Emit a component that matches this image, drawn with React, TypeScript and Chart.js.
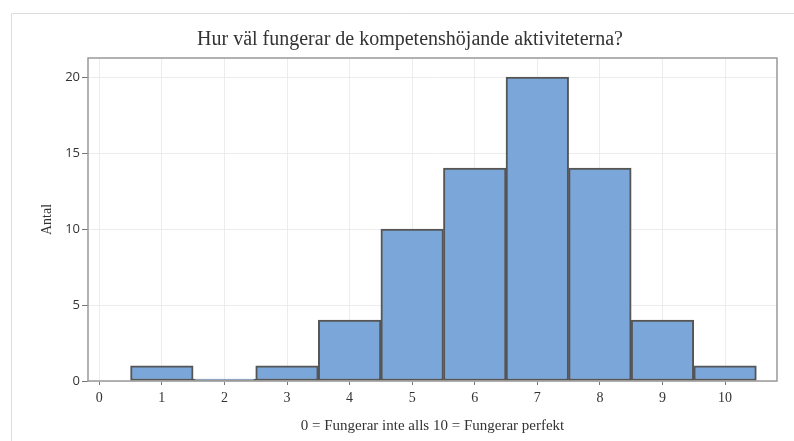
import React, { useEffect, useRef } from "react";
import { Chart, registerables } from "chart.js";

Chart.register(...registerables);

const titleText = "Hur väl fungerar de kompetenshöjande aktiviteterna?";
const xAxisLabel = "0 = Fungerar inte alls 10 = Fungerar perfekt";
const yAxisLabel = "Antal";
const scores = [1, 2, 3, 4, 5, 6, 7, 8, 9, 10];
const counts = [1, 0, 1, 4, 10, 14, 20, 14, 4, 1];
const xTicks = [0, 1, 2, 3, 4, 5, 6, 7, 8, 9, 10];
const yTicks = [0, 5, 10, 15, 20];

const framePlugin = {
  id: "framePlugin",
  beforeDraw(chart: any) {
    const ctx = chart.ctx;
    ctx.save();
    ctx.strokeStyle = "#dddddd";
    ctx.lineWidth = 1;
    ctx.beginPath();
    ctx.moveTo(11.5, 441);
    ctx.lineTo(11.5, 13.5);
    ctx.lineTo(794, 13.5);
    ctx.stroke();
    ctx.fillStyle = "#333333";
    ctx.font = "20px 'Liberation Serif', serif";
    ctx.textAlign = "center";
    ctx.textBaseline = "alphabetic";
    ctx.fillText(titleText, 410, 45);
    ctx.restore();
  },
  afterDatasetsDraw(chart: any) {
    const { left, right, top, bottom } = chart.chartArea;
    const ctx = chart.ctx;
    ctx.save();
    ctx.strokeStyle = "#999999";
    ctx.lineWidth = 1.5;
    ctx.strokeRect(left, top, right - left, bottom - top);
    ctx.restore();
  },
};

export default function App() {
  const ref = useRef<HTMLCanvasElement | null>(null);
  useEffect(() => {
    if (!ref.current) return;
    const chart = new Chart(ref.current, {
      type: "bar",
      data: {
        datasets: [
          {
            data: scores.map((s, i) => ({ x: s, y: counts[i] })),
            backgroundColor: "#7ba6d9",
            borderColor: "#555555",
            borderWidth: 2,
            borderSkipped: false,
            minBarLength: 2,
            barPercentage: 1,
            categoryPercentage: 1,
          },
        ],
      },
      options: {
        animation: false,
        responsive: false,
        layout: { padding: { top: 58, right: 17, left: 0, bottom: 0 } },
        plugins: { legend: { display: false }, tooltip: { enabled: false }, title: { display: false } },
        scales: {
          x: {
            type: "linear",
            min: -0.18,
            max: 10.83,
            offset: false,
            afterBuildTicks: (scale: any) => {
              scale.ticks = xTicks.map((v) => ({ value: v }));
            },
            afterFit: (scale: any) => {
              scale.height = 60;
            },
            grid: { color: "#ececec", tickColor: "#777777", tickLength: 4, offset: false },
            border: { display: false },
            ticks: {
              color: "#333333",
              padding: 5,
              maxRotation: 0,
              autoSkip: false,
              font: { family: "'Liberation Serif', serif", size: 14 },
            },
            title: {
              display: true,
              text: xAxisLabel,
              color: "#333333",
              font: { family: "'Liberation Serif', serif", size: 15 },
              padding: { top: 0, bottom: 6 },
            },
          },
          y: {
            min: 0,
            max: 21.25,
            afterBuildTicks: (scale: any) => {
              scale.ticks = yTicks.map((v) => ({ value: v }));
            },
            afterFit: (scale: any) => {
              scale.width = 88;
            },
            grid: { color: "#ececec", tickColor: "#777777", tickLength: 6 },
            border: { display: false },
            ticks: {
              color: "#333333",
              padding: 2,
              font: { family: "'Open Sans', sans-serif", size: 13 },
            },
            title: {
              display: true,
              text: yAxisLabel,
              color: "#333333",
              font: { family: "'Liberation Serif', serif", size: 14 },
              padding: { top: 39, bottom: 0 },
            },
          },
        },
      },
      plugins: [framePlugin],
    } as any);
    return () => chart.destroy();
  }, []);
  return (
    <div style={{ position: "fixed", left: 0, top: 0, width: 794, height: 441, background: "#ffffff" }}>
      <canvas ref={ref} width={794} height={441} style={{ display: "block", width: 794, height: 441 }} />
    </div>
  );
}
